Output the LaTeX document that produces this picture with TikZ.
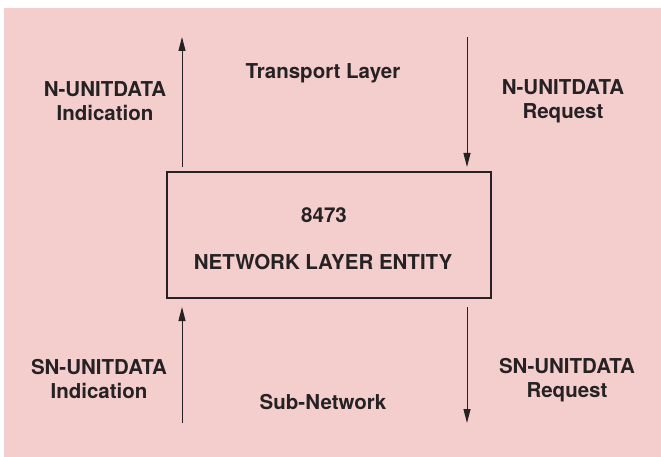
\documentclass[tikz,border=0pt]{standalone}
\usepackage{fontspec}
\setmainfont{TeX Gyre Heros}
\usetikzlibrary{arrows.meta}
\definecolor{paper}{RGB}{244,206,205}
\definecolor{ink}{RGB}{38,34,36}
\begin{document}
\begin{tikzpicture}[x=1pt,y=-1pt,
    lbl/.style={text=ink,align=center,inner sep=0pt,
      font=\fontsize{20.5}{24}\selectfont\bfseries},
    flow/.style={draw=ink,line width=1pt,
      -{Stealth[length=14pt,width=7pt,inset=0pt]}}]

        \useasboundingbox (0,0) rectangle (661,457);
        \fill[paper] (4,8) rectangle (661,457);

        \node[draw=ink,line width=1.6pt,minimum width=324pt,minimum height=126pt,
              inner sep=0pt] (nle) at (329,235) {};

        \begin{scope}[every node/.style={lbl}]
          \node (tp)   at (323,73)  {Transport Layer};
          \node (nind) at (105,101) {N-UNITDATA\\Indication};
          \node (nreq) at (563,101) {N-UNITDATA\\Request};
          \node (num)  at (324,215) {8473};
          \node (ent)  at (323,262) {NETWORK LAYER ENTITY};
          \node (sind) at (99,379)  {SN-UNITDATA\\Indication};
          \node (sreq) at (567,380) {SN-UNITDATA\\Request};
          \node (sub)  at (323,402) {Sub-Network};
        \end{scope}

        % arrow ends
        \coordinate (a1) at (182,167);
        \coordinate (b1) at (182,37);
        \coordinate (a2) at (467,37);
        \coordinate (b2) at (467,167);
        \coordinate (a3) at (182,423);
        \coordinate (b3) at (182,307);
        \coordinate (a4) at (467,307);
        \coordinate (b4) at (467,423);

        \begin{scope}[every edge/.style={flow}]
          \path (a1) edge (b1);
          \path (a2) edge (b2);
          \path (a3) edge (b3);
          \path (a4) edge (b4);
        \end{scope}

      \end{tikzpicture}
\end{document}
